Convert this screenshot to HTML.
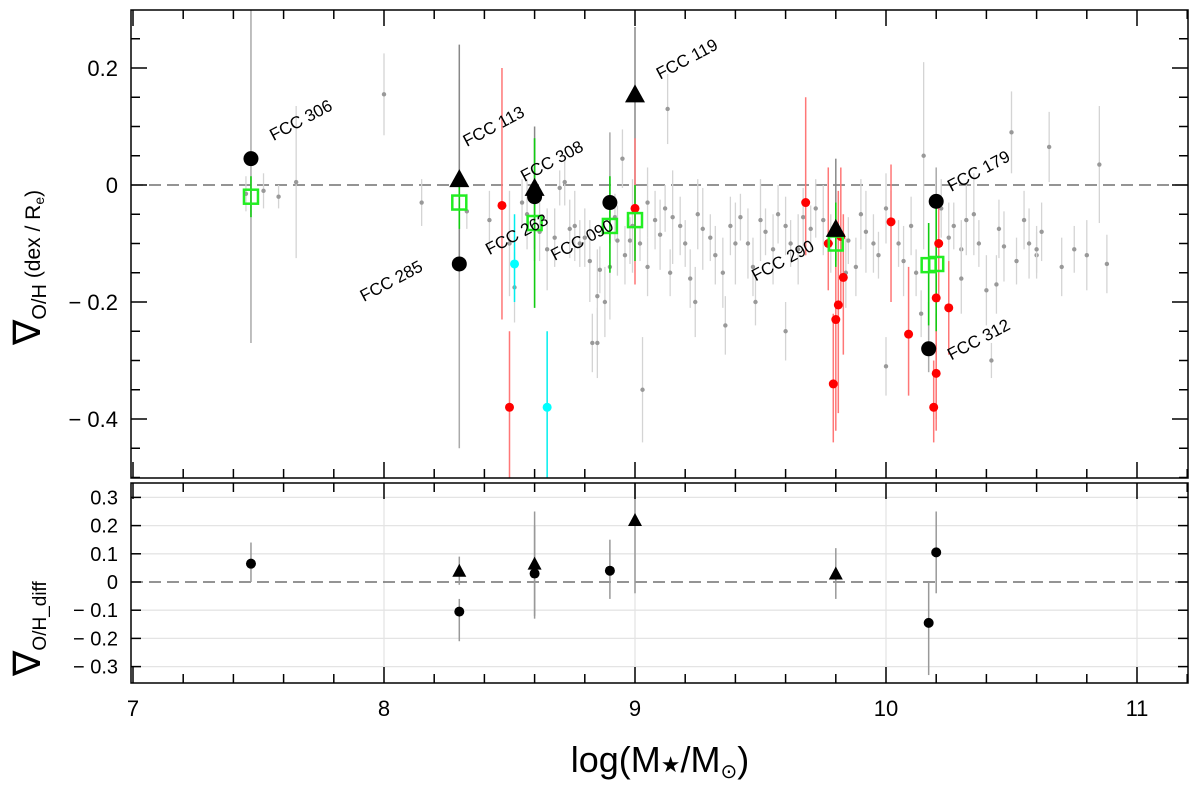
<!DOCTYPE html>
<html><head><meta charset="utf-8"><style>
html,body{margin:0;padding:0;background:#fff;}
svg{display:block;font-family:"Liberation Sans",Arial,sans-serif;}
</style></head><body>
<svg id="chart" width="1200" height="785" viewBox="0 0 1200 785" xmlns="http://www.w3.org/2000/svg">
<g id="topPanel"></g>
<g id="botPanel"></g>
<g id="axesG"></g>
</svg>
<script>
// ---- data ----
const xTicks = [7,8,9,10,11];
const yTopTicks = [0.2,0,-0.2,-0.4];
const yTopLabels = ["0.2","0","\u2212 0.2","\u2212 0.4"];
const yBotTicks = [0.3,0.2,0.1,0,-0.1,-0.2,-0.3];
const yBotLabels = ["0.3","0.2","0.1","0","\u2212 0.1","\u2212 0.2","\u2212 0.3"];
const grayX = [7.45,7.52,7.58,7.65,8.0,8.15,8.33,8.42,8.5,8.52,8.55,8.57,8.62,8.65,8.68,8.7,8.72,8.74,8.76,8.78,8.8,8.82,8.83,8.85,8.86,8.88,8.9,8.92,8.93,8.95,8.96,8.98,8.99,9.02,9.03,9.05,9.08,9.1,9.12,9.13,9.15,9.18,9.2,9.22,9.25,9.27,9.3,9.32,9.35,9.38,9.4,9.42,9.45,9.47,9.5,9.52,9.55,9.57,9.6,9.62,9.65,9.67,9.7,9.72,9.75,9.78,9.85,9.88,9.9,9.92,9.95,9.97,10.0,10.02,10.05,10.07,10.1,10.12,10.15,10.22,10.25,10.27,10.3,10.32,10.35,10.37,10.4,10.42,10.45,10.47,10.5,10.52,10.55,10.57,10.6,10.62,10.65,10.7,10.75,10.8,10.85,10.88,8.85,9.05,9.14,9.24,9.36,9.48,9.6,9.84,10.0,10.14,10.3,10.44,10.6];
const grayY = [-0.015,-0.01,-0.02,0.005,0.155,-0.03,-0.045,-0.06,-0.1,-0.175,-0.03,-0.05,-0.08,-0.11,-0.09,-0.005,0.005,-0.075,-0.07,-0.1,-0.09,-0.13,-0.27,-0.19,-0.145,-0.2,-0.14,-0.055,-0.095,0.045,-0.12,-0.095,-0.07,-0.1,-0.35,-0.03,-0.06,-0.085,-0.04,0.13,-0.055,-0.07,-0.1,-0.16,-0.05,-0.075,-0.09,-0.12,-0.15,-0.07,-0.1,-0.055,-0.1,-0.14,-0.06,-0.08,-0.11,-0.05,-0.07,-0.1,-0.11,-0.055,-0.075,-0.04,-0.06,-0.1,-0.095,-0.14,-0.05,-0.08,-0.1,-0.12,-0.04,-0.06,-0.1,-0.13,-0.07,-0.15,0.05,-0.04,-0.09,-0.07,-0.11,-0.06,-0.05,-0.1,-0.18,-0.3,-0.075,-0.105,0.09,-0.13,-0.06,-0.1,-0.12,-0.08,0.065,-0.14,-0.11,-0.12,0.035,-0.135,-0.27,-0.14,-0.15,-0.2,-0.24,-0.2,-0.25,-0.15,-0.31,-0.22,-0.16,-0.17,-0.11];
const grayE = [0.03,0.03,0.02,0.13,0.07,0.04,0.03,0.05,0.09,0.06,0.04,0.06,0.05,0.07,0.05,0.03,0.04,0.05,0.06,0.04,0.05,0.07,0.05,0.08,0.04,0.06,0.09,0.04,0.06,0.05,0.05,0.04,0.08,0.03,0.09,0.06,0.05,0.06,0.04,0.06,0.08,0.05,0.04,0.05,0.06,0.07,0.04,0.05,0.06,0.05,0.07,0.04,0.06,0.05,0.07,0.04,0.06,0.05,0.05,0.04,0.06,0.05,0.04,0.05,0.06,0.05,0.04,0.05,0.06,0.07,0.05,0.04,0.06,0.05,0.04,0.06,0.05,0.04,0.16,0.05,0.06,0.04,0.05,0.06,0.07,0.04,0.06,0.03,0.05,0.06,0.07,0.04,0.05,0.06,0.04,0.05,0.06,0.05,0.04,0.06,0.1,0.05,0.06,0.05,0.04,0.06,0.05,0.04,0.05,0.06,0.05,0.04,0.06,0.05,0.04];
const redX = [8.47,8.5,9.0,9.68,9.77,9.79,9.8,9.81,9.82,9.83,10.02,10.09,10.19,10.2,10.2,10.25,10.21];
const redY = [-0.035,-0.38,-0.04,-0.03,-0.1,-0.34,-0.23,-0.205,-0.088,-0.158,-0.063,-0.255,-0.38,-0.193,-0.322,-0.21,-0.1];
const redLo = [-0.23,-0.5,-0.17,-0.12,-0.18,-0.44,-0.42,-0.39,-0.2,-0.29,-0.2,-0.36,-0.44,-0.4,-0.42,-0.29,-0.2];
const redHi = [0.2,-0.25,0.08,0.15,0.03,-0.22,-0.04,-0.01,0.03,-0.05,0.035,-0.14,-0.3,-0.1,-0.22,-0.13,-0.02];
const cyanX = [8.52,8.65];
const cyanY = [-0.135,-0.38];
const cyanLo = [-0.2,-0.5];
const cyanHi = [-0.05,-0.25];
const sqX = [7.47,8.3,8.6,8.9,9.0,9.8,10.17,10.2];
const sqY = [-0.02,-0.03,-0.065,-0.07,-0.06,-0.1,-0.137,-0.135];
const sqLo = [-0.055,-0.075,-0.21,-0.15,-0.13,-0.14,-0.24,-0.25];
const sqHi = [0.015,0.005,0.08,0.015,0.0,-0.03,-0.065,-0.04];
const circX = [7.47,8.3,8.6,8.9,10.2,10.17];
const circY = [0.045,-0.135,-0.02,-0.03,-0.028,-0.28];
const circLo = [-0.27,-0.45,-0.13,-0.1,-0.08,-0.32];
const circHi = [0.3,0.18,0.08,0.09,0.03,-0.2];
const triX = [8.3,8.6,9.0,9.8];
const triY = [0.01,-0.005,0.155,-0.075];
const triLo = [-0.13,-0.11,-0.06,-0.13];
const triHi = [0.24,0.1,0.27,0.045];
const labels = ["FCC 306","FCC 113","FCC 308","FCC 119","FCC 285","FCC 263","FCC 090","FCC 290","FCC 179","FCC 312"];
const labelX = [7.56,8.33,8.56,9.1,7.92,8.42,8.68,9.48,10.26,10.26];
const labelY = [0.075,0.065,0.005,0.18,-0.2,-0.12,-0.13,-0.165,-0.012,-0.3];
const bCircX = [7.47,8.3,8.6,8.9,10.17,10.2];
const bCircY = [0.065,-0.105,0.03,0.04,-0.145,0.105];
const bCircLo = [0.0,-0.21,-0.13,-0.06,-0.33,-0.04];
const bCircHi = [0.14,-0.06,0.2,0.15,0.0,0.25];
const bTriX = [8.3,8.6,9.0,9.8];
const bTriY = [0.04,0.065,0.22,0.03];
const bTriLo = [-0.01,-0.12,-0.04,-0.06];
const bTriHi = [0.09,0.25,0.36,0.12];

const L=131,R=1188,T1=10,B1=478,T2=483,B2=683;
const X = v => 133 + (v-7)*251;
const Y1 = v => 185 - v*585;
const Y2 = v => 582 - v*282;
const NS="http://www.w3.org/2000/svg";
function mk(parent,tag,attrs){const e=document.createElementNS(NS,tag);for(const k in attrs)e.setAttribute(k,attrs[k]);parent.appendChild(e);return e;}
const gTop=document.getElementById('topPanel'), gBot=document.getElementById('botPanel'), gAx=document.getElementById('axesG');
const svgEl=document.getElementById('chart');
const defs=mk(svgEl,'defs',{});
const cp=mk(defs,'clipPath',{id:'c1'});mk(cp,'rect',{x:L,y:T1,width:R-L,height:B1-T1});
const cp2=mk(defs,'clipPath',{id:'c2'});mk(cp2,'rect',{x:L,y:T2,width:R-L,height:B2-T2});
gTop.setAttribute('clip-path','url(#c1)');gBot.setAttribute('clip-path','url(#c2)');

let z=mk(gTop,'line',{x1:L,x2:R,y1:Y1(0),y2:Y1(0),stroke:'#555','stroke-width':1.3,'stroke-dasharray':'12,6'});


grayX.forEach((x,i)=>{
  const l=mk(gTop,'line',{x1:X(x),x2:X(x),y1:Y1(grayY[i]+grayE[i]),y2:Y1(grayY[i]-grayE[i]),stroke:'#d4d4d4','stroke-width':1.3});
  
  
  const c=mk(gTop,'circle',{cx:X(x),cy:Y1(grayY[i]),r:2.2,fill:'#999'});
  
  
});
circX.forEach((x,i)=>{const l=mk(gTop,'line',{x1:X(x),x2:X(x),y1:Y1(circHi[i]),y2:Y1(circLo[i]),stroke:'#aaa','stroke-width':1.5});
  
  });
triX.forEach((x,i)=>{const l=mk(gTop,'line',{x1:X(x),x2:X(x),y1:Y1(triHi[i]),y2:Y1(triLo[i]),stroke:'#888','stroke-width':1.5});
  
  });
redX.forEach((x,i)=>{const l=mk(gTop,'line',{x1:X(x),x2:X(x),y1:Y1(redHi[i]),y2:Y1(redLo[i]),stroke:'#f77','stroke-width':1.5});
  
  });
cyanX.forEach((x,i)=>{const l=mk(gTop,'line',{x1:X(x),x2:X(x),y1:Y1(cyanHi[i]),y2:Y1(cyanLo[i]),stroke:'#0ee','stroke-width':1.5});
  
  });
sqX.forEach((x,i)=>{const l=mk(gTop,'line',{x1:X(x),x2:X(x),y1:Y1(sqHi[i]),y2:Y1(sqLo[i]),stroke:'#1c1','stroke-width':1.6});
  
  });
redX.forEach((x,i)=>{const c=mk(gTop,'circle',{cx:X(x),cy:Y1(redY[i]),r:4.5,fill:'#f00'});
  
  });
cyanX.forEach((x,i)=>{const c=mk(gTop,'circle',{cx:X(x),cy:Y1(cyanY[i]),r:4.5,fill:'#0ff'});
  
  });
sqX.forEach((x,i)=>{const r=mk(gTop,'rect',{x:X(x)-7,y:Y1(sqY[i])-7,width:14,height:14,fill:'none',stroke:'#2e2','stroke-width':2.5});
  
  });
triX.forEach((x,i)=>{const cx=X(x),cy=Y1(triY[i]);const p=mk(gTop,'polygon',{points:`${cx-10},${cy+8} ${cx+10},${cy+8} ${cx},${cy-10}`,fill:'#000'});
  
  });
circX.forEach((x,i)=>{const c=mk(gTop,'circle',{cx:X(x),cy:Y1(circY[i]),r:7.5,fill:'#000'});
  
  });
labels.forEach((s,i)=>{const x=X(labelX[i]),y=Y1(labelY[i]);const t=mk(gTop,'text',{x:x,y:y,'font-size':17,fill:'#000',transform:`rotate(-28 ${x} ${y})`});t.textContent=s;
  
  });

[0.3,0.2,0.1,-0.1,-0.2,-0.3].forEach(v=>{const g=mk(gBot,'line',{x1:L,x2:R,y1:Y2(v),y2:Y2(v),stroke:'#e4e4e4','stroke-width':1.3});
  
  });
xTicks.slice(1).forEach(v=>{const g=mk(gBot,'line',{x1:X(v),x2:X(v),y1:T2,y2:B2,stroke:'#e4e4e4','stroke-width':1.3});
  
  });
z=mk(gBot,'line',{x1:L,x2:R,y1:Y2(0),y2:Y2(0),stroke:'#555','stroke-width':1.3,'stroke-dasharray':'12,6'});


bCircX.forEach((x,i)=>{const l=mk(gBot,'line',{x1:X(x),x2:X(x),y1:Y2(bCircHi[i]),y2:Y2(bCircLo[i]),stroke:'#999','stroke-width':1.5});
  
  });
bTriX.forEach((x,i)=>{const l=mk(gBot,'line',{x1:X(x),x2:X(x),y1:Y2(bTriHi[i]),y2:Y2(bTriLo[i]),stroke:'#999','stroke-width':1.5});
  
  });
bCircX.forEach((x,i)=>{const c=mk(gBot,'circle',{cx:X(x),cy:Y2(bCircY[i]),r:5,fill:'#000'});
  
  });
bTriX.forEach((x,i)=>{const cx=X(x),cy=Y2(bTriY[i]);const p=mk(gBot,'polygon',{points:`${cx-7},${cy+6} ${cx+7},${cy+6} ${cx},${cy-7}`,fill:'#000'});
  
  });

[[T1,B1],[T2,B2]].forEach(([t,b],k)=>{const r=mk(gAx,'rect',{x:L,y:t,width:R-L,height:b-t,fill:'none',stroke:'#000','stroke-width':1.5});
  
  });
for(let v=7;v<=11.2001;v+=0.2){const maj=Math.abs(v-Math.round(v))<1e-6;const len=maj?16:9;const x=X(v);
  [[T1,B1],[T2,B2]].forEach(([t,b])=>{mk(gAx,'line',{x1:x,x2:x,y1:t,y2:t+len,stroke:'#000','stroke-width':1.5});mk(gAx,'line',{x1:x,x2:x,y1:b,y2:b-len,stroke:'#000','stroke-width':1.5});});}
xTicks.forEach(v=>{const t=mk(gAx,'text',{x:X(v),y:716,'font-size':22,'text-anchor':'middle'});t.textContent=v;
  
  });
for(let k=-10;k<=6;k++){const v=k*0.05;const maj=(k%4===0);const len=maj?16:9;const y=Y1(v);
  if(y<T1||y>B1)continue;mk(gAx,'line',{x1:L,x2:L+len,y1:y,y2:y,stroke:'#000','stroke-width':1.5});mk(gAx,'line',{x1:R,x2:R-len,y1:y,y2:y,stroke:'#000','stroke-width':1.5});}
yTopTicks.forEach((v,i)=>{const t=mk(gAx,'text',{x:118,y:Y1(v)+8,'font-size':22,'text-anchor':'end'});t.textContent=yTopLabels[i];
  
  });
yBotTicks.forEach((v,i)=>{const y=Y2(v);mk(gAx,'line',{x1:L,x2:L+10,y1:y,y2:y,stroke:'#000','stroke-width':1.5});mk(gAx,'line',{x1:R,x2:R-10,y1:y,y2:y,stroke:'#000','stroke-width':1.5});
  const t=mk(gAx,'text',{x:118,y:y+7,'font-size':20,'text-anchor':'end'});t.textContent=yBotLabels[i];
  
  });
let tt=mk(gAx,'text',{x:0,y:0,'font-size':28,transform:'translate(40,345) rotate(-90)'});
tt.innerHTML='<tspan font-size="38">\u2207</tspan><tspan font-size="20" dy="6">O/H</tspan><tspan dy="-6" font-size="21"> (dex / R</tspan><tspan font-size="14" dy="4">e</tspan><tspan font-size="21" dy="-4">)</tspan>';


tt=mk(gAx,'text',{x:0,y:0,'font-size':28,transform:'translate(40,676) rotate(-90)'});
tt.innerHTML='<tspan font-size="38">\u2207</tspan><tspan font-size="19" dy="6">O/H_diff</tspan>';


tt=mk(gAx,'text',{x:660,y:772,'font-size':36,'text-anchor':'middle'});
tt.innerHTML='log(M<tspan font-size="22">\u2605</tspan>/M<tspan font-size="20" dy="6">\u2299</tspan><tspan dy="-6">)</tspan>';


</script>
</body></html>
